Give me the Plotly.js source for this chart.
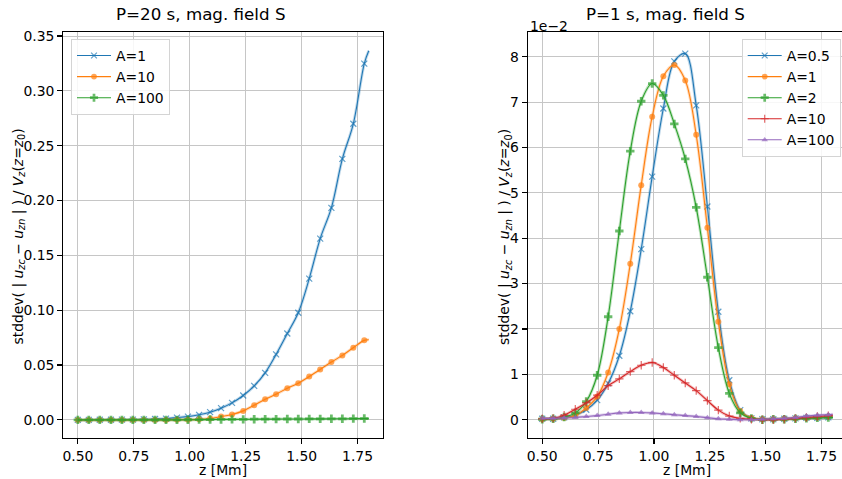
<!DOCTYPE html>
<html>
<head>
<meta charset="utf-8">
<script src="https://cdn.plot.ly/plotly-3.0.1.min.js"></script>
<style>
  html, body { margin: 0; padding: 0; background: #ffffff; }
  #chart { width: 842px; height: 479px; }
</style>
</head>
<body>
<div id="chart"></div>
<script>
// Height samples z [Mm]; the last sample (1.80) closes the line without a marker.
const z = [0.500, 0.549, 0.598, 0.648, 0.697, 0.746, 0.795, 0.845, 0.894, 0.943,
           0.992, 1.042, 1.091, 1.140, 1.189, 1.239, 1.288, 1.337, 1.386, 1.436,
           1.485, 1.534, 1.583, 1.633, 1.682, 1.731, 1.780, 1.800];

// P = 20 s : stddev(|u_zc - u_zn|) / V_z(z=z0)
const p20_A1   = [0.0000, 0.0000, 0.0001, 0.0001, 0.0002, 0.0003, 0.0005, 0.0008, 0.0012, 0.0021,
                  0.0030, 0.0046, 0.0070, 0.0107, 0.0155, 0.0222, 0.0310, 0.0429, 0.0597, 0.0788,
                  0.0977, 0.1288, 0.1653, 0.1933, 0.2380, 0.2700, 0.3248, 0.3366];
const p20_A10  = [0.0000, 0.0000, 0.0000, 0.0000, 0.0000, 0.0000, 0.0000, 0.0000, 0.0000, 0.0001,
                  0.0002, 0.0005, 0.0012, 0.0030, 0.0049, 0.0082, 0.0134, 0.0189, 0.0234, 0.0289,
                  0.0335, 0.0396, 0.0460, 0.0527, 0.0588, 0.0658, 0.0725, 0.0730];
const p20_A100 = [0.0000, 0.0000, 0.0000, 0.0000, 0.0000, 0.0000, 0.0000, 0.0000, 0.0000, 0.0000,
                  0.0001, 0.0002, 0.0003, 0.0004, 0.0005, 0.0005, 0.0006, 0.0007, 0.0007, 0.0008,
                  0.0008, 0.0009, 0.0009, 0.0010, 0.0010, 0.0011, 0.0012, 0.0012];

// P = 1 s : same quantity, in units of 1e-2
const p1_A05  = [0.02, 0.02, 0.05, 0.10, 0.22, 0.43, 0.80, 1.41, 2.39, 3.76,
                 5.36, 6.86, 7.90, 8.07, 6.93, 4.70, 2.38, 0.87, 0.21, 0.03,
                 0.01, 0.01, 0.02, 0.03, 0.04, 0.04, 0.05, 0.05];
const p1_A1   = [0.01, 0.02, 0.04, 0.09, 0.26, 0.51, 1.04, 2.00, 3.44, 5.17,
                 6.68, 7.57, 7.82, 7.48, 6.28, 4.23, 2.16, 0.78, 0.19, 0.04,
                 0.01, 0.01, 0.02, 0.03, 0.04, 0.05, 0.07, 0.08];
const p1_A2   = [0.01, 0.02, 0.06, 0.15, 0.40, 0.98, 2.27, 4.16, 5.92, 7.02,
                 7.41, 7.15, 6.52, 5.75, 4.68, 3.14, 1.59, 0.58, 0.15, 0.03,
                 0.00, 0.01, 0.01, 0.02, 0.03, 0.04, 0.05, 0.05];
const p1_A10  = [0.02, 0.03, 0.10, 0.23, 0.37, 0.54, 0.75, 0.90, 1.06, 1.20,
                 1.26, 1.15, 0.98, 0.81, 0.64, 0.42, 0.21, 0.08, 0.03, 0.01,
                 0.00, 0.00, 0.01, 0.03, 0.05, 0.07, 0.09, 0.10];
const p1_A100 = [0.03, 0.03, 0.04, 0.05, 0.07, 0.09, 0.12, 0.15, 0.16, 0.16,
                 0.15, 0.13, 0.11, 0.09, 0.07, 0.045, 0.02, 0.01, 0.00, 0.00,
                 0.01, 0.02, 0.03, 0.05, 0.08, 0.10, 0.11, 0.12];

const yTitle = 'stddev( | <i>u</i><sub><i>zc</i></sub> − <i>u</i><sub><i>zn</i></sub> | ) / <i>V</i><sub><i>z</i></sub>(<i>z</i>=<i>z</i><sub>0</sub>)';

const C = { blue: '#1f77b4', orange: '#ff7f0e', green: '#2ca02c', red: '#d62728', purple: '#9467bd' };
const FONT = 'DejaVu Sans, sans-serif';

// markers on every sample except the closing one
function sizes(n, s) { return Array.from({ length: n }, (_, i) => (i === n - 1 ? 0 : s)); }

function series(y, name, color, symbol, msize, xa, ya, legend) {
  const halo = {
    x: z, y: y, xaxis: xa, yaxis: ya, mode: 'lines', showlegend: false, hoverinfo: 'skip',
    line: { color: color, width: 3, shape: 'spline', smoothing: 1 }, opacity: 0.28
  };
  const open = symbol.indexOf('open') >= 0;
  const main = {
    x: z, y: y, xaxis: xa, yaxis: ya, name: name, legend: legend, mode: 'lines+markers',
    line: { color: color, width: 1.1, shape: 'spline', smoothing: 1 },
    marker: {
      symbol: symbol, size: sizes(z.length, msize), color: color,
      line: { color: color, width: open ? 1.2 : 0 }
    }
  };
  return [halo, main];
}

const traces = [].concat(
  series(p20_A1,   'A=1',   C.blue,   'x-thin-open',     6, 'x',  'y',  'legend'),
  series(p20_A10,  'A=10',  C.orange, 'circle',          6, 'x',  'y',  'legend'),
  series(p20_A100, 'A=100', C.green,  'cross',           7, 'x',  'y',  'legend'),
  series(p1_A05,   'A=0.5', C.blue,   'x-thin-open',     6, 'x2', 'y2', 'legend2'),
  series(p1_A1,    'A=1',   C.orange, 'circle',          6, 'x2', 'y2', 'legend2'),
  series(p1_A2,    'A=2',   C.green,  'cross',           7, 'x2', 'y2', 'legend2'),
  series(p1_A10,   'A=10',  C.red,    'cross-thin-open', 6, 'x2', 'y2', 'legend2'),
  series(p1_A100,  'A=100', C.purple, 'triangle-up',     6, 'x2', 'y2', 'legend2')
);

const W = 842, H = 479;
const px = v => v / W;
const py = v => 1 - v / H;

const axisBase = {
  showline: true, linecolor: '#000000', linewidth: 1.1,
  ticks: 'outside', ticklen: 5, tickwidth: 1.1, tickcolor: '#000000',
  showgrid: true, gridcolor: '#c6c6c6', gridwidth: 1,
  zeroline: false, tickfont: { family: FONT, size: 13.9, color: '#000000' }
};

const legendBase = {
  xanchor: 'left', yanchor: 'top', bgcolor: 'rgba(255,255,255,0.85)',
  bordercolor: '#d4d4d4', borderwidth: 1, itemwidth: 34, tracegroupgap: 0,
  font: { family: FONT, size: 13.9, color: '#000000' }
};

const layout = {
  width: W, height: H, margin: { l: 0, r: 0, t: 0, b: 0 },
  paper_bgcolor: '#ffffff', plot_bgcolor: '#ffffff', showlegend: true,
  xaxis: Object.assign({}, axisBase, {
    domain: [px(63.3), px(383.3)], range: [0.435, 1.865], anchor: 'y', mirror: true,
    tickvals: [0.5, 0.75, 1.0, 1.25, 1.5, 1.75], tickformat: '.2f'
  }),
  yaxis: Object.assign({}, axisBase, {
    domain: [py(438.3), py(32.3)], range: [-0.0168, 0.3534], anchor: 'x', mirror: true,
    tickvals: [0, 0.05, 0.1, 0.15, 0.2, 0.25, 0.3, 0.35], tickformat: '.2f'
  }),
  xaxis2: Object.assign({}, axisBase, {
    domain: [px(527.7), 1], range: [0.435, 1.8413], anchor: 'y2', mirror: true,
    tickvals: [0.5, 0.75, 1.0, 1.25, 1.5, 1.75], tickformat: '.2f'
  }),
  yaxis2: Object.assign({}, axisBase, {
    domain: [py(438.3), py(32.3)], range: [-0.41, 8.54], anchor: 'x2', mirror: false,
    tickvals: [0, 1, 2, 3, 4, 5, 6, 7, 8], tickformat: 'd'
  }),
  legend: Object.assign({}, legendBase, { x: px(71), y: py(39) }),
  legend2: Object.assign({}, legendBase, { x: px(741.7), y: py(39) }),
  annotations: [
    { text: 'P=20 s, mag. field S', x: px(200.5), y: py(14), xref: 'paper', yref: 'paper',
      xanchor: 'center', yanchor: 'middle', showarrow: false, font: { family: FONT, size: 16.7, color: '#000' } },
    { text: 'P=1 s, mag. field S', x: px(665), y: py(14), xref: 'paper', yref: 'paper',
      xanchor: 'center', yanchor: 'middle', showarrow: false, font: { family: FONT, size: 16.7, color: '#000' } },
    { text: 'z [Mm]', x: px(223.3), y: py(470), xref: 'paper', yref: 'paper',
      xanchor: 'center', yanchor: 'middle', showarrow: false, font: { family: FONT, size: 13.9, color: '#000' } },
    { text: 'z [Mm]', x: px(686.7), y: py(470), xref: 'paper', yref: 'paper',
      xanchor: 'center', yanchor: 'middle', showarrow: false, font: { family: FONT, size: 13.9, color: '#000' } },
    { text: yTitle, x: px(18.5), y: py(237), xref: 'paper', yref: 'paper', textangle: -90,
      xanchor: 'center', yanchor: 'middle', showarrow: false, font: { family: FONT, size: 13.9, color: '#000' } },
    { text: yTitle, x: px(505), y: py(237), xref: 'paper', yref: 'paper', textangle: -90,
      xanchor: 'center', yanchor: 'middle', showarrow: false, font: { family: FONT, size: 13.9, color: '#000' } },
    { text: '1e−2', x: px(528), y: py(26), xref: 'paper', yref: 'paper',
      xanchor: 'left', yanchor: 'middle', showarrow: false, font: { family: FONT, size: 13.9, color: '#000' } }
  ]
};

Plotly.newPlot('chart', traces, layout, { displayModeBar: false, staticPlot: true });
</script>
</body>
</html>
